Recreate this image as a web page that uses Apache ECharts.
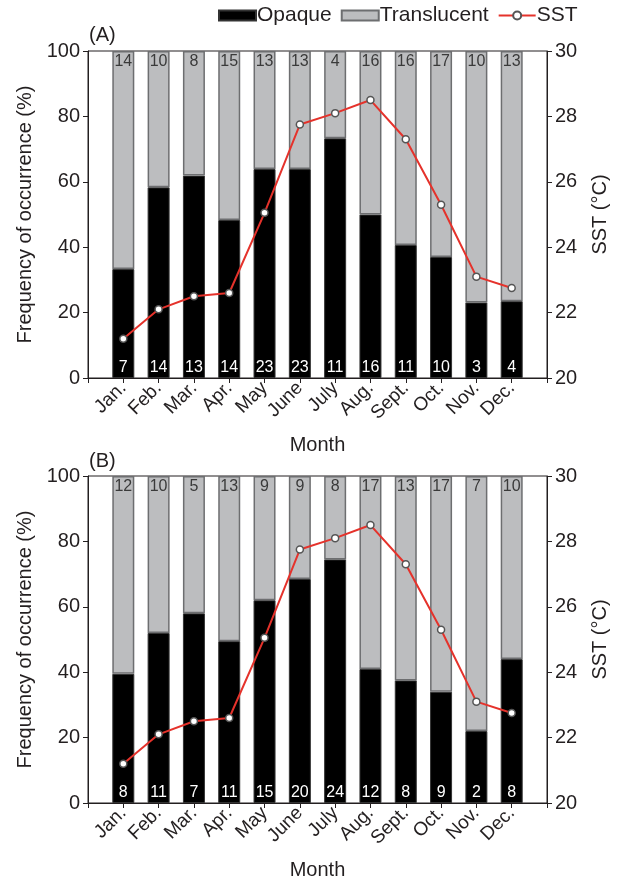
<!DOCTYPE html>
<html lang="en">
<head>
    <meta charset="UTF-8">
    <title>Opaque / translucent zones and SST</title>
    <script src="https://cdn.jsdelivr.net/npm/echarts@6/dist/echarts.min.js"></script>
</head>
<body style="margin:0;background:#fff;">
<div id="chart" style="width: 619px;height: 882px;"></div>
</body>
<script>
    // month labels (empty slots at both ends leave the gap next to the axes)
    var months = ['', 'Jan.', 'Feb.', 'Mar.', 'Apr.', 'May', 'June', 'July', 'Aug.', 'Sept.', 'Oct.', 'Nov.', 'Dec.', ''];

    // panel A: opaque percentage and counts
    var opaqueA = [33.3, 58.3, 61.9, 48.3, 63.9, 63.9, 73.3, 50.0, 40.7, 37.0, 23.1, 23.5];
    var opaqueCountA = [7, 14, 13, 14, 23, 23, 11, 16, 11, 10, 3, 4];
    var transCountA = [14, 10, 8, 15, 13, 13, 4, 16, 16, 17, 10, 13];

    // panel B
    var opaqueB = [39.5, 52.0, 58.0, 49.5, 62.0, 68.5, 74.5, 41.0, 37.5, 34.0, 22.0, 44.0];
    var opaqueCountB = [8, 11, 7, 11, 15, 20, 24, 12, 8, 9, 2, 8];
    var transCountB = [12, 10, 5, 13, 9, 9, 8, 17, 13, 17, 7, 10];

    // monthly SST (°C), same in both panels
    var sst = [21.2, 22.1, 22.5, 22.6, 25.05, 27.75, 28.1, 28.5, 27.3, 25.3, 23.1, 22.75];

    var txt = '#231f20';
    var font = 'Liberation Sans';

    function pad(arr) {
        return [null].concat(arr).concat([null]);
    }
    function rest(arr) {
        var res = [];
        for (var i = 0; i < arr.length; i++) {
            res.push(+(100 - arr[i]).toFixed(1));
        }
        return res;
    }

    function makeAxes(gi) {
        var xAxis = {
            type: 'category', gridIndex: gi, data: months, boundaryGap: false,
            name: 'Month', nameLocation: 'middle', nameGap: 57,
            nameTextStyle: {color: txt, fontSize: 20, fontFamily: font},
            axisLine: {lineStyle: {color: txt, width: 1}},
            axisTick: {show: true, length: 5, lineStyle: {color: txt}},
            axisLabel: {rotate: 45, color: txt, fontSize: 19, fontFamily: font, interval: 0, margin: 7}
        };
        var yLeft = {
            type: 'value', gridIndex: gi, min: 0, max: 100, interval: 20,
            name: 'Frequency of occurrence (%)', nameLocation: 'middle', nameGap: 51,
            nameTextStyle: {color: txt, fontSize: 20, fontFamily: font},
            axisLine: {show: true, lineStyle: {color: txt, width: 1}},
            axisTick: {show: true, length: 5, lineStyle: {color: txt}},
            axisLabel: {color: txt, fontSize: 20, fontFamily: font, margin: 8},
            splitLine: {show: false}
        };
        var yRight = {
            type: 'value', gridIndex: gi, min: 20, max: 30, interval: 2, position: 'right',
            name: 'SST (°C)', nameLocation: 'middle', nameGap: 43, nameRotate: 90,
            nameTextStyle: {color: txt, fontSize: 20, fontFamily: font},
            axisLine: {show: true, lineStyle: {color: txt, width: 1}},
            axisTick: {show: true, length: 5, lineStyle: {color: txt}},
            axisLabel: {color: txt, fontSize: 20, fontFamily: font, margin: 8},
            splitLine: {show: false}
        };
        return {x: xAxis, y: [yLeft, yRight]};
    }

    function makeSeries(gi, opaque, oCount, tCount) {
        return [
            {
                name: 'Opaque', type: 'bar', stack: 's' + gi, xAxisIndex: gi, yAxisIndex: gi * 2,
                data: pad(opaque), barWidth: 22,
                itemStyle: {color: '#000', borderColor: '#333', borderWidth: 1},
                label: {
                    show: true, position: 'insideBottom', distance: 2,
                    color: '#fff', fontSize: 16, fontFamily: font,
                    formatter: function (p) { return oCount[p.dataIndex - 1]; }
                }
            },
            {
                name: 'Translucent', type: 'bar', stack: 's' + gi, xAxisIndex: gi, yAxisIndex: gi * 2,
                data: pad(rest(opaque)), barWidth: 22,
                itemStyle: {color: '#bcbdbf', borderColor: '#6d6e70', borderWidth: 1.5},
                label: {
                    show: true, position: 'insideTop', distance: 3,
                    color: '#3a3a3a', fontSize: 16, fontFamily: font,
                    formatter: function (p) { return tCount[p.dataIndex - 1]; }
                }
            },
            {
                name: 'SST', type: 'line', xAxisIndex: gi, yAxisIndex: gi * 2 + 1,
                data: pad(sst), connectNulls: false,
                symbol: 'circle', symbolSize: 7,
                lineStyle: {color: '#e5322b', width: 2},
                itemStyle: {color: '#fff', borderColor: '#555', borderWidth: 1.5},
                z: 5
            }
        ];
    }

    var a = makeAxes(0), b = makeAxes(1);

    var chart = echarts.init(document.getElementById('chart'));
    chart.setOption({
        backgroundColor: '#fff',
        animation: false,
        textStyle: {fontFamily: font},
        title: [
            {text: '(A)', left: 84, top: 20, textStyle: {color: txt, fontSize: 20, fontWeight: 'normal', fontFamily: font}},
            {text: '(B)', left: 84, top: 446, textStyle: {color: txt, fontSize: 20, fontWeight: 'normal', fontFamily: font}}
        ],
        legend: {
            left: 213, top: 0, itemGap: 9, itemWidth: 37, itemHeight: 10,
            textStyle: {color: txt, fontSize: 21, fontFamily: font, padding: [0, 0, 0, -4]},
            data: [
                {name: 'Opaque', icon: 'rect'},
                {name: 'Translucent', icon: 'rect'},
                {name: 'SST'}
            ]
        },
        grid: [
            {left: 88, right: 72, top: 51, height: 327, show: true, borderColor: txt, borderWidth: 1},
            {left: 88, right: 72, top: 476, height: 327, show: true, borderColor: txt, borderWidth: 1}
        ],
        xAxis: [a.x, b.x],
        yAxis: a.y.concat(b.y),
        series: makeSeries(0, opaqueA, opaqueCountA, transCountA)
            .concat(makeSeries(1, opaqueB, opaqueCountB, transCountB))
    });
</script>
</html>
